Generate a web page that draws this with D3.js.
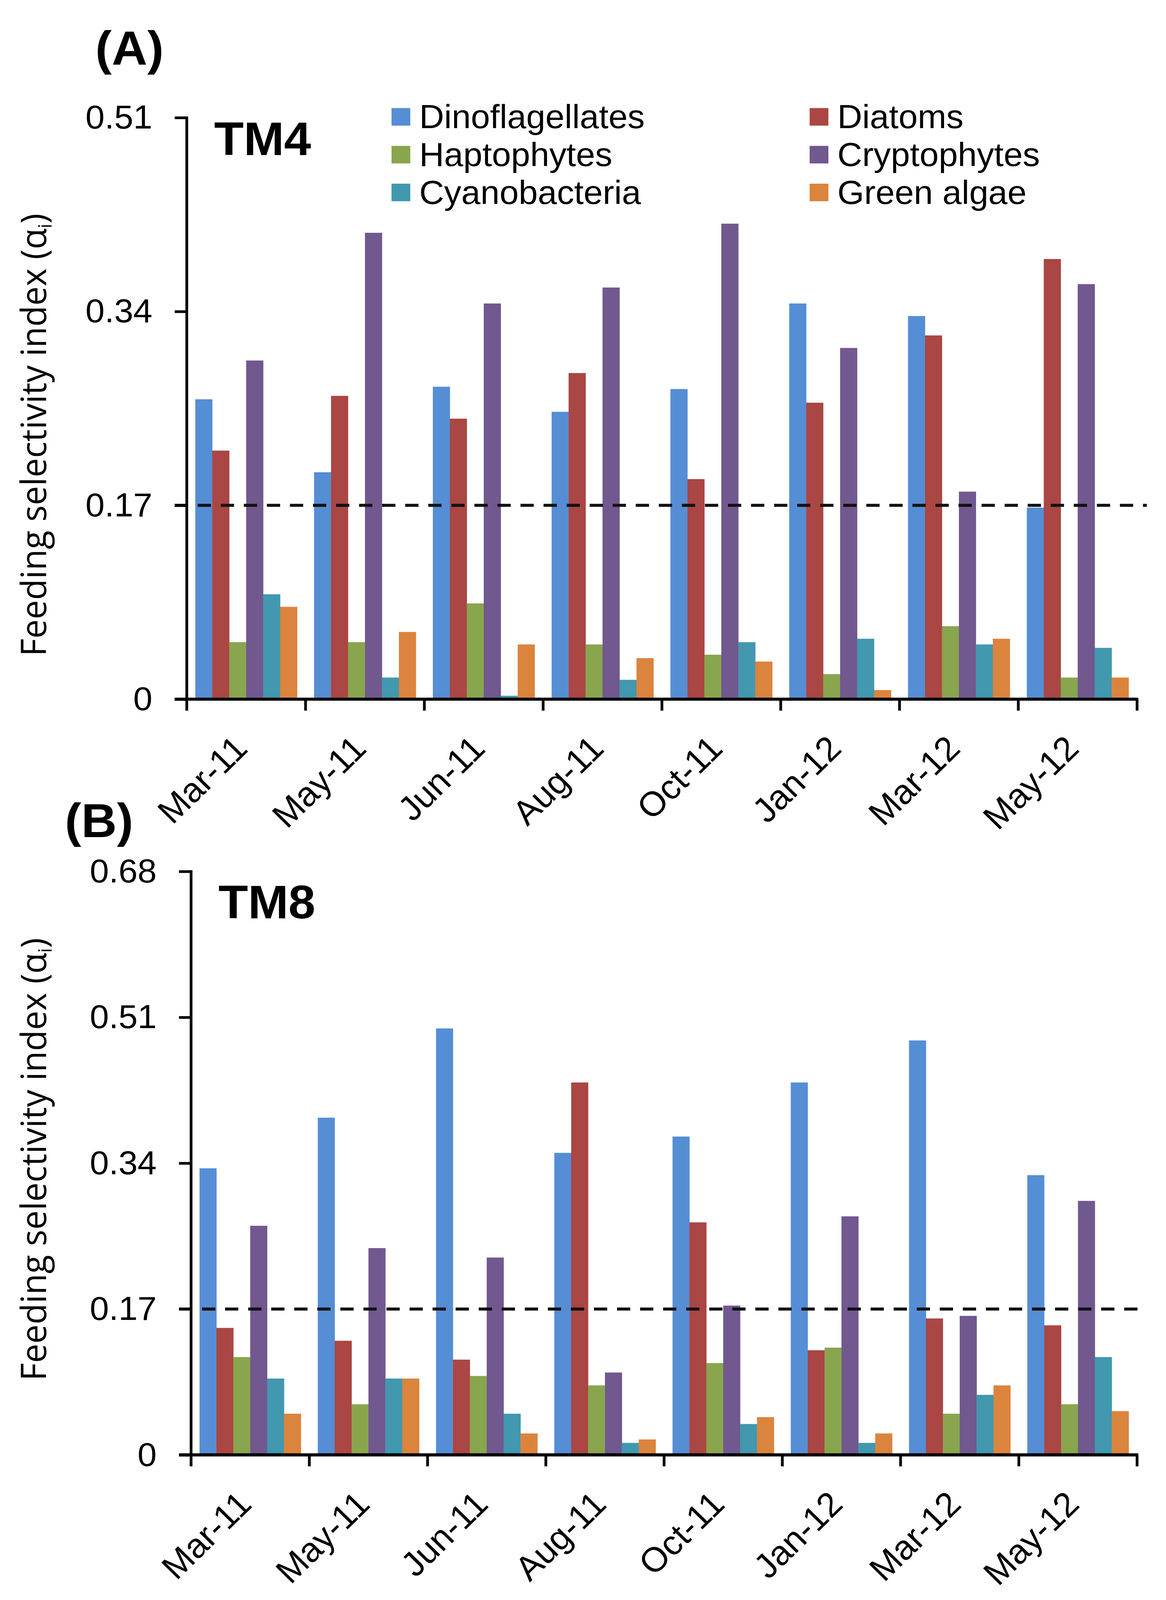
<!DOCTYPE html>
<html>
<head>
<meta charset="utf-8">
<script src="https://cdn.jsdelivr.net/npm/d3@7"></script>
<style>
  html, body { margin: 0; padding: 0; background: #ffffff; width: 100%; height: 100%; overflow: hidden; }
  svg { display: block; width: 100vw; height: 100vh; }
</style>
</head>
<body>
<script>
// ---------------- data ----------------
const categories = ["Mar-11", "May-11", "Jun-11", "Aug-11", "Oct-11", "Jan-12", "Mar-12", "May-12"];
const seriesNames = ["Dinoflagellates", "Diatoms", "Haptophytes", "Cryptophytes", "Cyanobacteria", "Green algae"];
const seriesColors = ["#558ED5", "#AA4643", "#89A54E", "#71588F", "#4198AF", "#DB843D"];
const legendOrder = ["Dinoflagellates", "Diatoms", "Haptophytes", "Cryptophytes", "Cyanobacteria", "Green algae"];

// Panel A (TM4)
const tm4Dinoflagellates = [0.263, 0.199, 0.274, 0.252, 0.272, 0.347, 0.336, 0.168];
const tm4Diatoms         = [0.218, 0.266, 0.246, 0.286, 0.193, 0.260, 0.319, 0.386];
const tm4Haptophytes     = [0.050, 0.050, 0.084, 0.048, 0.039, 0.022, 0.064, 0.019];
const tm4Cryptophytes    = [0.297, 0.409, 0.347, 0.361, 0.417, 0.308, 0.182, 0.364];
const tm4Cyanobacteria   = [0.092, 0.019, 0.003, 0.017, 0.050, 0.053, 0.048, 0.045];
const tm4GreenAlgae      = [0.081, 0.059, 0.048, 0.036, 0.033, 0.008, 0.053, 0.019];

// Panel B (TM8)
const tm8Dinoflagellates = [0.334, 0.393, 0.497, 0.352, 0.371, 0.434, 0.483, 0.326];
const tm8Diatoms         = [0.148, 0.133, 0.111, 0.434, 0.271, 0.122, 0.159, 0.151];
const tm8Haptophytes     = [0.114, 0.059, 0.092, 0.081, 0.107, 0.125, 0.048, 0.059];
const tm8Cryptophytes    = [0.267, 0.241, 0.230, 0.096, 0.174, 0.278, 0.162, 0.296];
const tm8Cyanobacteria   = [0.089, 0.089, 0.048, 0.014, 0.036, 0.014, 0.070, 0.114];
const tm8GreenAlgae      = [0.048, 0.089, 0.025, 0.018, 0.044, 0.025, 0.081, 0.051];

const tm4Ticks = [0, 0.17, 0.34, 0.51];
const tm8Ticks = [0, 0.17, 0.34, 0.51, 0.68];
const thresholdValue = 0.17;

// ---------------- drawing ----------------
const W = 2984, H = 4190;
const svg = d3.select("body").append("svg")
  .attr("viewBox", `0 0 ${W} ${H}`)
  .attr("preserveAspectRatio", "none");
svg.append("rect").attr("width", W).attr("height", H).attr("fill", "#ffffff");

const color = d3.scaleOrdinal().domain(seriesNames).range(seriesColors);
const FONT = "'Liberation Sans', Arial, sans-serif";
const TITLE_FONT = "'Open Sans', 'DejaVu Sans', sans-serif";

function drawPanel(cfg) {
  const { left, right, top, bottom, ymax, ticks, series, letter, letterX, letterY, tag, tagY, titleCenter } = cfg;
  const g = svg.append("g");

  const x0 = d3.scaleBand().domain(categories).range([left, right])
    .paddingInner(1 / 7).paddingOuter(0.5 / 7);
  const x1 = d3.scaleBand().domain(seriesNames).range([0, x0.bandwidth()]);
  const y = d3.scaleLinear().domain([0, ymax]).range([bottom, top]);

  // bars
  const rows = categories.map((c, i) => ({ cat: c, vals: seriesNames.map((s, k) => ({ s, v: series[k][i] })) }));
  g.append("g").selectAll("g").data(rows).join("g")
    .attr("transform", d => `translate(${x0(d.cat)},0)`)
    .selectAll("rect").data(d => d.vals).join("rect")
    .attr("x", d => x1(d.s))
    .attr("y", d => y(d.v))
    .attr("width", x1.bandwidth() + 0.5)
    .attr("height", d => y(0) - y(d.v))
    .attr("fill", d => color(d.s));

  // threshold dashed line
  g.append("line")
    .attr("x1", left - 31).attr("x2", right + 25)
    .attr("y1", y(thresholdValue)).attr("y2", y(thresholdValue))
    .attr("stroke", "#111111").attr("stroke-width", 8)
    .attr("stroke-dasharray", "34 25");

  // y axis
  const yAxis = d3.axisLeft(y).tickValues(ticks).tickSize(31).tickPadding(57)
    .tickFormat(d => d === 0 ? "0" : d3.format(".2f")(d));
  const ya = g.append("g").attr("transform", `translate(${left},0)`).call(yAxis);
  ya.select(".domain").attr("stroke", "#000").attr("stroke-width", 7)
    .attr("d", `M0,${top - 3}V${bottom}`);
  ya.selectAll(".tick line").attr("stroke", "#000").attr("stroke-width", 7);
  ya.selectAll(".tick text").attr("font-family", FONT).attr("font-size", 88).attr("fill", "#000");

  // x axis: labels from the band scale, tick marks at category boundaries
  const xAxis = d3.axisBottom(x0).tickSize(0).tickFormat(d => d);
  const xa = g.append("g").attr("transform", `translate(0,${bottom})`).call(xAxis);
  xa.select(".domain").remove();
  xa.selectAll(".tick text")
    .attr("font-family", FONT).attr("font-size", 90).attr("fill", "#000")
    .attr("text-anchor", "end").attr("dy", 0).attr("y", 0)
    .attr("transform", `translate(8,134) rotate(-45)`);

  const bounds = d3.range(categories.length + 1).map(i => left + i * x0.step());
  g.append("g").selectAll("line").data(bounds).join("line")
    .attr("x1", d => d).attr("x2", d => d)
    .attr("y1", bottom).attr("y2", bottom + 30)
    .attr("stroke", "#000").attr("stroke-width", 7);
  g.append("line")
    .attr("x1", left - 31).attr("x2", right + 3)
    .attr("y1", bottom).attr("y2", bottom)
    .attr("stroke", "#000").attr("stroke-width", 8);

  // y-axis title
  const t = g.append("text")
    .attr("transform", `translate(118,${titleCenter}) rotate(-90)`)
    .attr("text-anchor", "middle")
    .attr("font-family", TITLE_FONT).attr("font-size", 90).attr("fill", "#000");
  t.append("tspan").text("Feeding selectivity index (α");
  t.append("tspan").attr("font-size", 48).attr("dy", 14).text("i");
  t.append("tspan").attr("dy", -14).text(")");

  // panel letter and site tag
  g.append("text").attr("x", letterX).attr("y", letterY)
    .attr("font-family", FONT).attr("font-weight", "bold").attr("font-size", 126)
    .attr("fill", "#000").text(letter);
  g.append("text").attr("x", left + 70).attr("y", tagY)
    .attr("font-family", FONT).attr("font-weight", "bold").attr("font-size", 124)
    .attr("fill", "#000").text(tag);

  return g;
}

drawPanel({
  left: 478, right: 2910, top: 308, bottom: 1831, ymax: 0.51, ticks: tm4Ticks,
  series: [tm4Dinoflagellates, tm4Diatoms, tm4Haptophytes, tm4Cryptophytes, tm4Cyanobacteria, tm4GreenAlgae],
  letter: "(A)", letterX: 244, letterY: 170, tag: "TM4", tagY: 406, titleCenter: 1139
});

drawPanel({
  left: 489, right: 2910, top: 2282, bottom: 3810, ymax: 0.68, ticks: tm8Ticks,
  series: [tm8Dinoflagellates, tm8Diatoms, tm8Haptophytes, tm8Cryptophytes, tm8Cyanobacteria, tm8GreenAlgae],
  letter: "(B)", letterX: 166, letterY: 2192, tag: "TM8", tagY: 2405, titleCenter: 3036
});

// legend (panel A)
const legendCols = [1002, 2072];
const legendRows = [306, 405, 504];
const leg = svg.append("g").selectAll("g").data(legendOrder).join("g")
  .attr("transform", (d, i) => `translate(${legendCols[i % 2]},${legendRows[Math.floor(i / 2)]})`);
leg.append("rect").attr("x", 0).attr("y", -23).attr("width", 48).attr("height", 46)
  .attr("fill", d => color(d));
leg.append("text").attr("x", 71).attr("y", 30)
  .attr("font-family", FONT).attr("font-size", 88).attr("fill", "#000")
  .text(d => d);
</script>
</body>
</html>
